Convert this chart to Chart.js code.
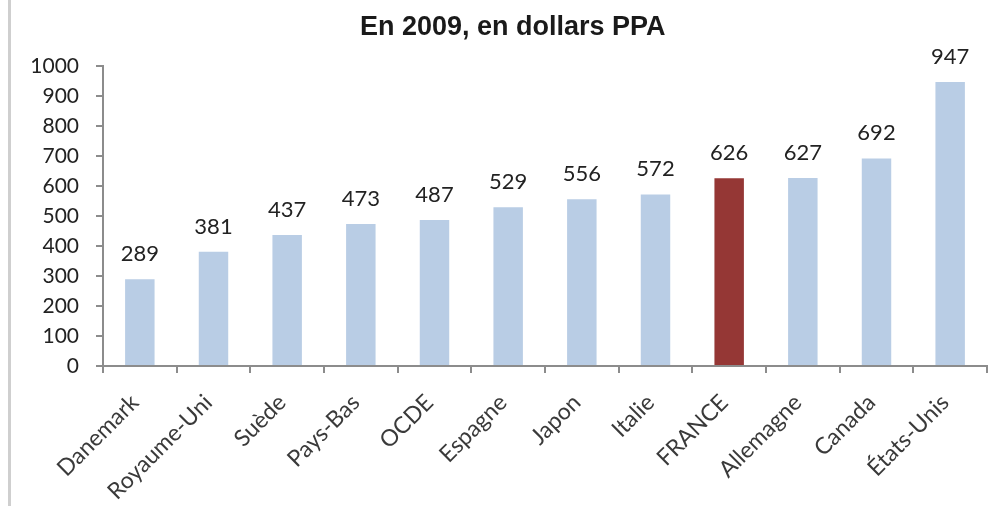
<!DOCTYPE html>
<html>
<head>
<meta charset="utf-8">
<script src="https://cdn.jsdelivr.net/npm/chart.js@4/dist/chart.umd.min.js"></script>
<style>
  html, body { margin: 0; padding: 0; background: #fff; }
  #wrap { position: relative; width: 1002px; height: 506px; }
  #bord { position: absolute; left: 8px; top: 0; width: 3px; height: 506px; background: #cfcfcf; }
</style>
</head>
<body>
<div id="wrap">
  <div id="bord"></div>
  <canvas id="depChart" width="1002" height="506"></canvas>
</div>
<script>
// données
const pays = ['Danemark', 'Royaume-Uni', 'Suède', 'Pays-Bas', 'OCDE', 'Espagne', 'Japon', 'Italie', 'FRANCE', 'Allemagne', 'Canada', 'États-Unis'];
const valeurs = [289, 381, 437, 473, 487, 529, 556, 572, 626, 627, 692, 947];
const titre = 'En 2009, en dollars PPA';

const couleurs = pays.map(p => p === 'FRANCE' ? '#953735' : '#B9CDE5');

// titre et étiquettes de valeurs
const texteExtra = {
    id: 'texteExtra',
    afterDatasetsDraw(chart) {
        const ctx = chart.ctx;
        ctx.save();
        ctx.fillStyle = '#1a1a1a';
        ctx.font = 'bold 27px "Liberation Sans", Arial, sans-serif';
        ctx.textAlign = 'left';
        ctx.textBaseline = 'alphabetic';
        ctx.fillText(titre, 360, 35);

        ctx.fillStyle = '#222';
        ctx.font = '22px Lato, sans-serif';
        ctx.textAlign = 'center';
        chart.getDatasetMeta(0).data.forEach((bar, i) => {
            ctx.fillText(String(valeurs[i]), bar.x, bar.y - 18);
        });
        ctx.restore();
    }
};

new Chart(document.getElementById('depChart'), {
    type: 'bar',
    data: {
        labels: pays,
        datasets: [{
            data: valeurs,
            backgroundColor: couleurs,
            borderWidth: 0,
            categoryPercentage: 1,
            barPercentage: 0.4
        }]
    },
    options: {
        responsive: false,
        animation: false,
        layout: { padding: { top: 66, right: 15, left: 0, bottom: 0 } },
        scales: {
            x: {
                grid: { drawOnChartArea: false, drawTicks: true, tickLength: 7, color: '#8c8c8c', lineWidth: 2 },
                border: { color: '#8c8c8c', width: 2 },
                ticks: {
                    color: '#3a3a3a',
                    font: { family: 'Lato', size: 23 },
                    minRotation: 45,
                    maxRotation: 45,
                    padding: 16,
                    labelOffset: -5,
                    autoSkip: false
                },
                afterFit(scale) { scale.height = 140; }
            },
            y: {
                min: 0,
                max: 1000,
                grid: { drawOnChartArea: false, drawTicks: true, tickLength: 7, color: '#8c8c8c', lineWidth: 2 },
                border: { color: '#8c8c8c', width: 2 },
                ticks: {
                    stepSize: 100,
                    color: '#222',
                    font: { family: 'Lato', size: 21 },
                    padding: 17,
                    callback: v => String(v)
                },
                afterFit(scale) { scale.width = 103; }
            }
        },
        plugins: {
            legend: { display: false },
            title: { display: false },
            tooltip: { enabled: false }
        }
    },
    plugins: [texteExtra]
});
</script>
</body>
</html>
